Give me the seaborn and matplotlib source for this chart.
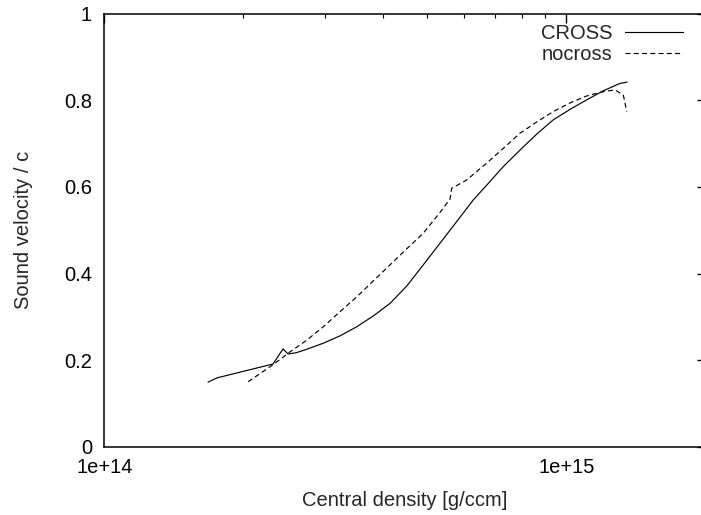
import matplotlib
matplotlib.use("Agg")
import matplotlib.pyplot as plt
import seaborn as sns
import pandas as pd
import numpy as np
from matplotlib.ticker import FixedLocator, LogLocator, NullFormatter
from matplotlib.lines import Line2D

# ---- data ----
cross_density = [1.676e14, 1.753e14, 2.317e14, 2.436e14, 2.497e14, 2.600e14, 2.741e14,
                 2.977e14, 3.236e14, 3.517e14, 3.820e14, 4.152e14, 4.512e14, 4.900e14,
                 5.326e14, 5.789e14, 6.288e14, 6.722e14, 7.302e14, 7.935e14, 8.626e14,
                 9.369e14, 1.018e15, 1.106e15, 1.202e15, 1.306e15, 1.353e15]
cross_vs = [0.149, 0.159, 0.191, 0.226, 0.214, 0.217, 0.225,
            0.239, 0.256, 0.277, 0.302, 0.331, 0.371, 0.420,
            0.470, 0.520, 0.570, 0.604, 0.647, 0.685, 0.722,
            0.755, 0.779, 0.801, 0.822, 0.839, 0.842]

nocross_density = [2.047e14, 2.321e14, 2.522e14, 2.741e14, 2.977e14, 3.236e14, 3.517e14,
                   3.820e14, 4.152e14, 4.512e14, 4.900e14, 5.326e14, 5.599e14, 5.647e14,
                   5.740e14, 6.085e14, 6.722e14, 7.302e14, 7.935e14, 8.626e14, 9.369e14,
                   1.018e15, 1.106e15, 1.202e15, 1.274e15, 1.328e15, 1.351e15]
nocross_vs = [0.150, 0.190, 0.219, 0.246, 0.277, 0.312, 0.346,
              0.383, 0.420, 0.457, 0.493, 0.541, 0.572, 0.597,
              0.601, 0.616, 0.655, 0.689, 0.724, 0.750, 0.774,
              0.794, 0.810, 0.820, 0.824, 0.812, 0.774]

series_names = ["CROSS", "nocross"]
y_ticks = [0, 0.2, 0.4, 0.6, 0.8, 1.0]
y_ticklabels = ["0", "0.2", "0.4", "0.6", "0.8", "1"]
x_ticks = [1e14, 1e15]
x_ticklabels = ["1e+14", "1e+15"]
x_label = "Central density [g/ccm]"
y_label = "Sound velocity / c"

df = pd.concat([
    pd.DataFrame({"density": cross_density, "vs": cross_vs, "series": series_names[0]}),
    pd.DataFrame({"density": nocross_density, "vs": nocross_vs, "series": series_names[1]}),
], ignore_index=True)

sns.set_theme(style="white")
plt.rcParams["font.family"] = ["Liberation Sans", "DejaVu Sans"]
FS = 14.5
DASH = (4.2, 2.8)

fig = plt.figure(figsize=(7.01, 5.15), dpi=100)
ax = fig.add_axes([104.4 / 701, (515 - 446.7) / 515, (705.5 - 104.4) / 701, (446.7 - 13.7) / 515])

sns.lineplot(data=df, x="density", y="vs", hue="series", style="series",
             palette={"CROSS": "black", "nocross": "black"},
             dashes={"CROSS": "", "nocross": DASH},
             linewidth=0.85, sort=False, estimator=None, ax=ax, legend=False)

ax.set_xscale("log")
ax.set_xlim(1e14, 2e15)
ax.set_ylim(0, 1)

ax.xaxis.set_major_locator(FixedLocator(x_ticks))
ax.set_xticklabels(x_ticklabels, fontsize=FS)
ax.xaxis.set_minor_locator(LogLocator(base=10, subs=np.arange(2, 10)))
ax.xaxis.set_minor_formatter(NullFormatter())
ax.set_yticks(y_ticks)
ax.set_yticklabels(y_ticklabels, fontsize=FS)

ax.tick_params(which="both", direction="in", top=True, right=True, colors="black")
ax.tick_params(which="major", length=6.5, width=1.0)
ax.tick_params(which="minor", length=3.2, width=0.8)
ax.tick_params(axis="y", which="major", pad=9)
ax.tick_params(axis="x", which="major", pad=8)

for s in ax.spines.values():
    s.set_color("black")
    s.set_linewidth(1.1)

ax.set_xlabel(x_label, fontsize=FS, labelpad=10)
ax.set_ylabel(y_label, fontsize=FS, labelpad=22)

# legend (gnuplot style: text left of sample)
handles = [Line2D([], [], color="black", lw=0.85),
           Line2D([], [], color="black", lw=0.85, dashes=DASH)]
leg = ax.legend(handles, series_names, loc="upper right",
                bbox_to_anchor=(683 / 701, (515 - 24) / 515), bbox_transform=fig.transFigure,
                frameon=False, markerfirst=False, fontsize=FS,
                handlelength=2.9, handletextpad=0.6, labelspacing=0.12,
                borderpad=0, borderaxespad=0)

fig.savefig("out.png", dpi=100)
